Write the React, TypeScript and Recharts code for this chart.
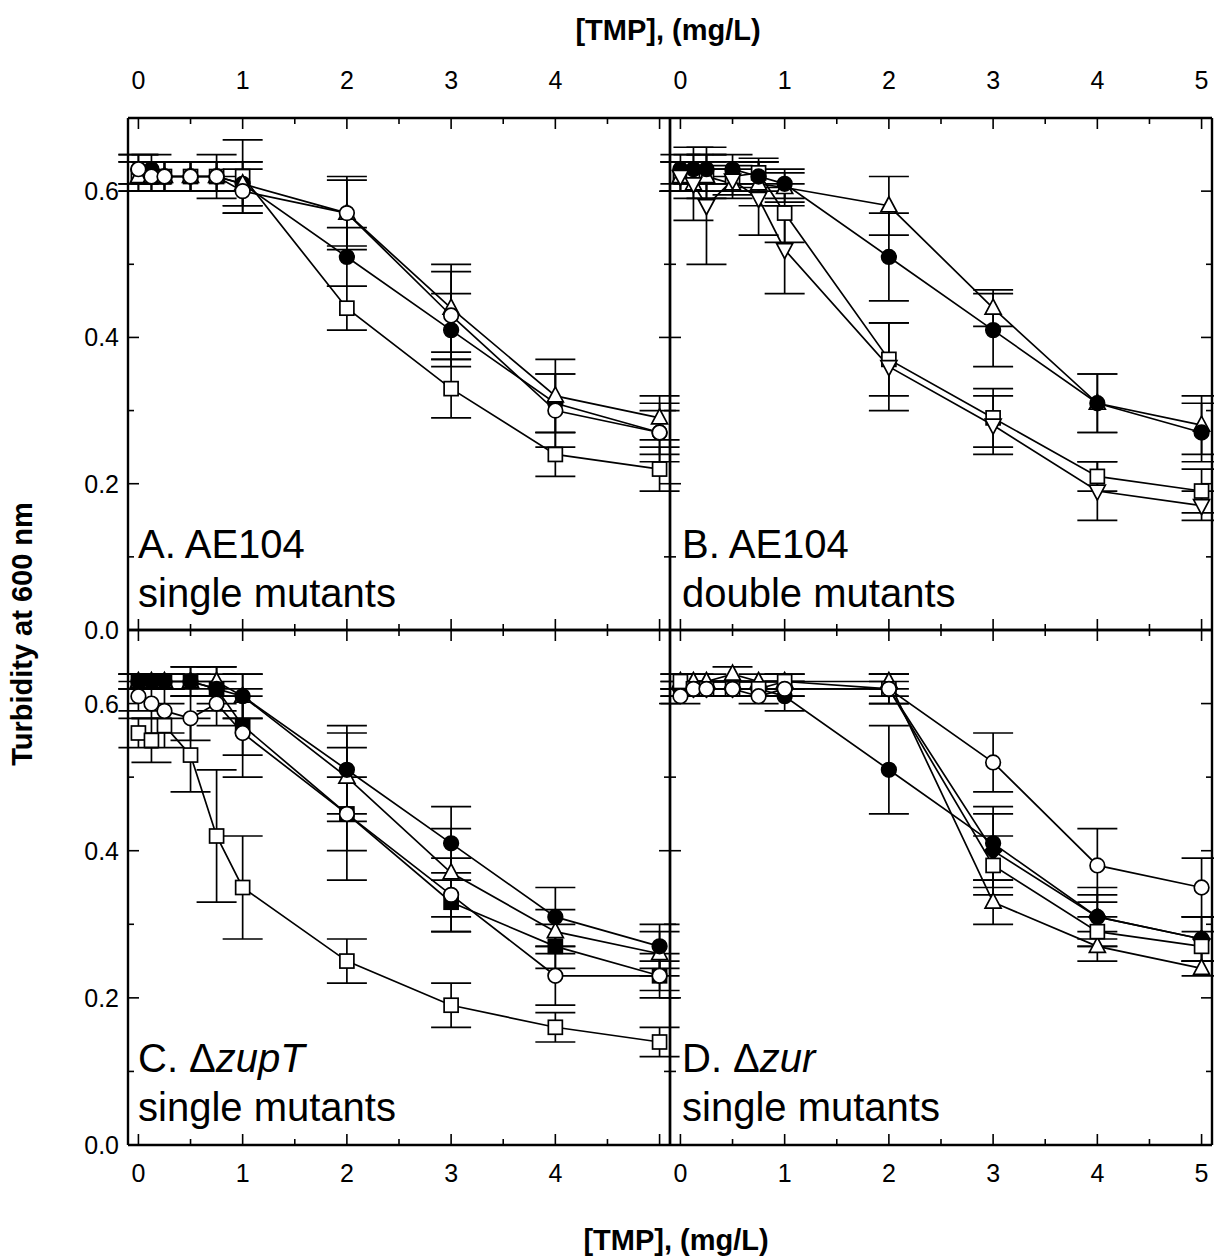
import { ErrorBar, Line, LineChart, XAxis, YAxis } from "recharts";

// TMP doses, mg/L
const doses = [0, 0.125, 0.25, 0.5, 0.75, 1, 2, 3, 4, 5];
const xTicks = [0, 0.5, 1, 1.5, 2, 2.5, 3, 3.5, 4, 4.5, 5];
const yTicks = [0, 0.1, 0.2, 0.3, 0.4, 0.5, 0.6];

// A. AE104 single mutants
const aFilled = [0.63, 0.63, 0.62, 0.62, 0.62, 0.61, 0.51, 0.41, 0.31, 0.27];
const aFilledErr = [0.02, 0.02, 0.02, 0.02, 0.02, 0.03, 0.04, 0.05, 0.04, 0.03];
const aTri = [0.62, 0.62, 0.62, 0.62, 0.62, 0.61, 0.57, 0.44, 0.32, 0.29];
const aTriErr = [0.02, 0.02, 0.02, 0.02, 0.02, 0.03, 0.045, 0.06, 0.05, 0.03];
const aCircle = [0.63, 0.62, 0.62, 0.62, 0.62, 0.6, 0.57, 0.43, 0.3, 0.27];
const aCircleErr = [0.02, 0.02, 0.02, 0.02, 0.02, 0.03, 0.05, 0.06, 0.05, 0.04];
const aSquare = [0.62, 0.62, 0.62, 0.62, 0.62, 0.62, 0.44, 0.33, 0.24, 0.22];
const aSquareErr = [0.02, 0.02, 0.02, 0.02, 0.03, 0.05, 0.03, 0.04, 0.03, 0.03];

// B. AE104 double mutants
const bFilled = [0.63, 0.63, 0.63, 0.63, 0.62, 0.61, 0.51, 0.41, 0.31, 0.27];
const bFilledErr = [0.02, 0.02, 0.02, 0.02, 0.02, 0.02, 0.06, 0.05, 0.04, 0.04];
const bTri = [0.62, 0.61, 0.62, 0.61, 0.61, 0.605, 0.58, 0.44, 0.31, 0.28];
const bTriErr = [0.02, 0.02, 0.02, 0.02, 0.03, 0.02, 0.04, 0.025, 0.04, 0.04];
const bSquare = [0.62, 0.62, 0.62, 0.62, 0.625, 0.57, 0.37, 0.29, 0.21, 0.19];
const bSquareErr = [0.02, 0.02, 0.03, 0.02, 0.02, 0.04, 0.05, 0.04, 0.02, 0.03];
const bInv = [0.62, 0.61, 0.58, 0.615, 0.59, 0.52, 0.36, 0.28, 0.19, 0.17];
const bInvErr = [0.02, 0.05, 0.08, 0.02, 0.05, 0.06, 0.06, 0.04, 0.04, 0.02];

// C. zupT single mutants
const cFilled = [0.63, 0.63, 0.63, 0.63, 0.62, 0.61, 0.51, 0.41, 0.31, 0.27];
const cFilledErr = [0.01, 0.01, 0.01, 0.01, 0.02, 0.03, 0.06, 0.05, 0.04, 0.03];
const cTri = [0.63, 0.63, 0.63, 0.63, 0.63, 0.61, 0.5, 0.37, 0.29, 0.26];
const cTriErr = [0.01, 0.01, 0.01, 0.02, 0.02, 0.03, 0.06, 0.06, 0.03, 0.03];
const cFilledSq = [0.63, 0.63, 0.63, 0.63, 0.62, 0.57, 0.45, 0.33, 0.27, 0.23];
const cFilledSqErr = [0.01, 0.01, 0.01, 0.02, 0.03, 0.04, 0.05, 0.04, 0.03, 0.03];
const cCircle = [0.61, 0.6, 0.59, 0.58, 0.6, 0.56, 0.45, 0.34, 0.23, 0.23];
const cCircleErr = [0.02, 0.02, 0.03, 0.03, 0.03, 0.06, 0.09, 0.05, 0.04, 0.02];
const cSquare = [0.56, 0.55, 0.57, 0.53, 0.42, 0.35, 0.25, 0.19, 0.16, 0.14];
const cSquareErr = [0.02, 0.03, 0.03, 0.05, 0.09, 0.07, 0.03, 0.03, 0.02, 0.02];

// D. zur single mutants
const dFilled = [0.62, 0.62, 0.62, 0.62, 0.62, 0.61, 0.51, 0.41, 0.31, 0.28];
const dFilledErr = [0.01, 0.01, 0.01, 0.01, 0.01, 0.02, 0.06, 0.05, 0.04, 0.03];
const dDiamond = [0.62, 0.62, 0.62, 0.62, 0.62, 0.62, 0.62, 0.4, 0.31, 0.28];
const dDiamondErr = [0.01, 0.01, 0.01, 0.01, 0.01, 0.01, 0.02, 0.05, 0.03, 0.03];
const dCircle = [0.61, 0.62, 0.62, 0.62, 0.61, 0.62, 0.62, 0.52, 0.38, 0.35];
const dCircleErr = [0.01, 0.01, 0.01, 0.01, 0.01, 0.01, 0.01, 0.04, 0.05, 0.04];
const dSquare = [0.63, 0.62, 0.62, 0.62, 0.62, 0.63, 0.62, 0.38, 0.29, 0.27];
const dSquareErr = [0.01, 0.01, 0.01, 0.01, 0.01, 0.01, 0.02, 0.04, 0.02, 0.02];
const dTri = [0.63, 0.63, 0.63, 0.64, 0.63, 0.63, 0.63, 0.33, 0.27, 0.24];
const dTriErr = [0.01, 0.01, 0.01, 0.01, 0.01, 0.01, 0.01, 0.03, 0.02, 0.01];

const FONT = '"Liberation Sans", Arial, Helvetica, sans-serif';
const W = 1214;
const H = 1258;

type Shape = "circle" | "square" | "up" | "down" | "diamond";
type Series = { vals: number[]; errs: number[]; shape: Shape; filled: boolean };

const panelA: Series[] = [
  { vals: aSquare, errs: aSquareErr, shape: "square", filled: false },
  { vals: aFilled, errs: aFilledErr, shape: "circle", filled: true },
  { vals: aTri, errs: aTriErr, shape: "up", filled: false },
  { vals: aCircle, errs: aCircleErr, shape: "circle", filled: false },
];
const panelB: Series[] = [
  { vals: bSquare, errs: bSquareErr, shape: "square", filled: false },
  { vals: bTri, errs: bTriErr, shape: "up", filled: false },
  { vals: bFilled, errs: bFilledErr, shape: "circle", filled: true },
  { vals: bInv, errs: bInvErr, shape: "down", filled: false },
];
const panelC: Series[] = [
  { vals: cSquare, errs: cSquareErr, shape: "square", filled: false },
  { vals: cFilledSq, errs: cFilledSqErr, shape: "square", filled: true },
  { vals: cCircle, errs: cCircleErr, shape: "circle", filled: false },
  { vals: cTri, errs: cTriErr, shape: "up", filled: false },
  { vals: cFilled, errs: cFilledErr, shape: "circle", filled: true },
];
const panelD: Series[] = [
  { vals: dDiamond, errs: dDiamondErr, shape: "diamond", filled: true },
  { vals: dFilled, errs: dFilledErr, shape: "circle", filled: true },
  { vals: dTri, errs: dTriErr, shape: "up", filled: false },
  { vals: dSquare, errs: dSquareErr, shape: "square", filled: false },
  { vals: dCircle, errs: dCircleErr, shape: "circle", filled: false },
];

function Mark({ cx, cy, shape, filled }: { cx: number; cy: number; shape: Shape; filled: boolean }) {
  if (cx == null || cy == null) return null;
  const p = { fill: filled ? "#000" : "#fff", stroke: "#000", strokeWidth: 1.7 };
  if (shape === "circle") return <circle cx={cx} cy={cy} r={7.3} {...p} />;
  if (shape === "square") return <rect x={cx - 7} y={cy - 7} width={14} height={14} {...p} />;
  if (shape === "up")
    return <polygon points={`${cx},${cy - 9} ${cx - 8},${cy + 6} ${cx + 8},${cy + 6}`} {...p} />;
  if (shape === "down")
    return <polygon points={`${cx},${cy + 9} ${cx - 8},${cy - 6} ${cx + 8},${cy - 6}`} {...p} />;
  return <polygon points={`${cx},${cy - 8.5} ${cx + 8.5},${cy} ${cx},${cy + 8.5} ${cx - 8.5},${cy}`} {...p} />;
}

function XTick(props: any) {
  const { x, y, payload, side, maxLabel } = props;
  const v = payload.value;
  const major = Math.abs(v - Math.round(v)) < 1e-6;
  const len = major ? 11 : 6;
  const dir = side === "bottom" ? -1 : 1;
  return (
    <g>
      <line x1={x} x2={x} y1={y} y2={y + dir * len} stroke="#000" strokeWidth={1.6} />
      {maxLabel != null && major && v <= maxLabel && (
        <text x={x} y={side === "bottom" ? y + 37 : y - 29} textAnchor="middle" fontSize={25} fontFamily={FONT} fill="#000">
          {v}
        </text>
      )}
    </g>
  );
}

function YTick(props: any) {
  const { x, y, payload, side, showLabel } = props;
  const v = payload.value;
  const major = Math.round(v * 10) % 2 === 0;
  const len = major ? 11 : 6;
  const dir = side === "left" ? 1 : -1;
  return (
    <g>
      <line x1={x} x2={x + dir * len} y1={y} y2={y} stroke="#000" strokeWidth={1.6} />
      {showLabel && major && (
        <text x={x - 9} y={y} dy="0.36em" textAnchor="end" fontSize={25} fontFamily={FONT} fill="#000">
          {v.toFixed(1)}
        </text>
      )}
    </g>
  );
}

function Panel({
  series,
  left,
  top,
  right,
  bottom,
  topLabels,
  bottomLabels,
  leftLabels,
  maxLabel,
}: {
  series: Series[];
  left: number;
  top: number;
  right: number;
  bottom: number;
  topLabels: boolean;
  bottomLabels: boolean;
  leftLabels: boolean;
  maxLabel: number;
}) {
  const axisLine = { stroke: "#000", strokeWidth: 2.4 };
  // axes get 1px of room each (Recharts skips zero-size axes)
  return (
    <div style={{ position: "absolute", left: 0, top: 0 }}>
      <LineChart
        width={W}
        height={H}
        margin={{ left: left - 1, top: top - 1, right: W - right - 1, bottom: H - bottom - 1 }}
      >
        <XAxis
          xAxisId="b"
          dataKey="x"
          type="number"
          domain={[-0.1, 5.1]}
          ticks={xTicks}
          height={1}
          tickSize={0}
          tickMargin={0}
          tickLine={false}
          axisLine={axisLine}
          allowDataOverflow
          interval={0}
          tick={(p: any) => <XTick {...p} side="bottom" maxLabel={bottomLabels ? maxLabel : null} />}
        />
        <XAxis
          xAxisId="t"
          orientation="top"
          dataKey="x"
          type="number"
          domain={[-0.1, 5.1]}
          ticks={xTicks}
          height={1}
          tickSize={0}
          tickMargin={0}
          tickLine={false}
          axisLine={axisLine}
          allowDataOverflow
          interval={0}
          tick={(p: any) => <XTick {...p} side="top" maxLabel={topLabels ? maxLabel : null} />}
        />
        <YAxis
          yAxisId="l"
          type="number"
          domain={[0, 0.7]}
          ticks={yTicks}
          width={1}
          tickSize={0}
          tickMargin={0}
          tickLine={false}
          axisLine={axisLine}
          allowDataOverflow
          interval={0}
          tick={(p: any) => <YTick {...p} side="left" showLabel={leftLabels} />}
        />
        <YAxis
          yAxisId="r"
          orientation="right"
          type="number"
          domain={[0, 0.7]}
          ticks={yTicks}
          width={1}
          tickSize={0}
          tickMargin={0}
          tickLine={false}
          axisLine={axisLine}
          allowDataOverflow
          interval={0}
          tick={(p: any) => <YTick {...p} side="right" showLabel={false} />}
        />
        {series.map((s, si) => (
          <Line
            key={si}
            xAxisId="b"
            yAxisId="l"
            data={doses.map((x, i) => ({ x, y: s.vals[i], e: s.errs[i] }))}
            dataKey="y"
            type="linear"
            stroke="#000"
            strokeWidth={1.7}
            isAnimationActive={false}
            activeDot={false}
            dot={(p: any) => <Mark key={p.index} cx={p.cx} cy={p.cy} shape={s.shape} filled={s.filled} />}
          >
            <ErrorBar dataKey="e" direction="y" width={20} stroke="#000" strokeWidth={1.7} isAnimationActive={false} />
          </Line>
        ))}
      </LineChart>
    </div>
  );
}

export default function App() {
  const txt = { fontFamily: FONT, fill: "#000" } as const;
  return (
    <div style={{ position: "absolute", left: 0, top: 0, width: W, height: H, background: "#fff", overflow: "hidden" }}>
      <Panel series={panelA} left={128} right={670} top={118} bottom={630} topLabels bottomLabels={false} leftLabels maxLabel={4} />
      <Panel series={panelB} left={670} right={1212} top={118} bottom={630} topLabels bottomLabels={false} leftLabels={false} maxLabel={5} />
      <Panel series={panelC} left={128} right={670} top={630} bottom={1145} topLabels={false} bottomLabels leftLabels maxLabel={4} />
      <Panel series={panelD} left={670} right={1212} top={630} bottom={1145} topLabels={false} bottomLabels leftLabels={false} maxLabel={5} />
      <svg width={W} height={H} style={{ position: "absolute", left: 0, top: 0, pointerEvents: "none" }}>
        <text x={668} y={40} textAnchor="middle" fontSize={29} fontWeight="bold" {...txt}>
          [TMP], (mg/L)
        </text>
        <text x={676} y={1250} textAnchor="middle" fontSize={29} fontWeight="bold" {...txt}>
          [TMP], (mg/L)
        </text>
        <text transform="translate(32,634) rotate(-90)" textAnchor="middle" fontSize={29} fontWeight="bold" {...txt}>
          Turbidity at 600 nm
        </text>
        <text x={138} y={558} fontSize={40} {...txt}>A. AE104</text>
        <text x={138} y={607} fontSize={40} {...txt}>single mutants</text>
        <text x={682} y={558} fontSize={40} {...txt}>B. AE104</text>
        <text x={682} y={607} fontSize={40} {...txt}>double mutants</text>
        <text x={138} y={1072} fontSize={40} {...txt}>
          C. Δ<tspan fontStyle="italic">zupT</tspan>
        </text>
        <text x={138} y={1121} fontSize={40} {...txt}>single mutants</text>
        <text x={682} y={1072} fontSize={40} {...txt}>
          D. Δ<tspan fontStyle="italic">zur</tspan>
        </text>
        <text x={682} y={1121} fontSize={40} {...txt}>single mutants</text>
      </svg>
    </div>
  );
}
